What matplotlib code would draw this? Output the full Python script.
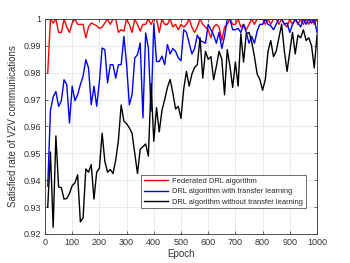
import numpy as np
import matplotlib
matplotlib.use("Agg")
import matplotlib.pyplot as plt
from matplotlib.ticker import FuncFormatter

plt.rcParams['font.family'] = ['Liberation Sans', 'DejaVu Sans']

epochs = list(range(10, 1001, 10))

federated = [
    0.980, 1.000, 0.9985, 1.000, 0.995, 0.995, 1.000, 0.997, 0.995, 0.9985,
    1.000, 0.998, 0.998, 0.998, 0.993, 0.997, 0.9985, 0.998, 0.9975, 0.9965,
    0.997, 0.9985, 1.000, 0.998, 1.000, 1.000, 0.995, 0.996, 0.9955, 1.000,
    0.998, 0.995, 1.000, 0.998, 0.9955, 0.998, 0.998, 1.000, 0.998, 1.000,
    1.000, 0.995, 1.000, 0.998, 0.998, 1.000, 0.997, 0.998, 0.996, 0.998,
    0.997, 0.998, 1.000, 0.997, 0.995, 0.997, 1.000, 0.998, 0.997, 0.996,
    0.993, 0.997, 0.998, 0.997, 0.992, 0.997, 0.998, 1.000, 0.998, 0.998,
    1.000, 0.997, 0.998, 0.996, 0.998, 1.000, 0.998, 1.000, 1.000, 1.000,
    0.998, 1.000, 0.998, 1.000, 1.000, 0.998, 1.000, 0.998, 0.997, 1.000,
    0.998, 1.000, 0.998, 1.000, 0.998, 1.000, 0.998, 1.000, 0.998, 1.000,
]

with_tl = [
    0.9378, 0.966, 0.971, 0.973, 0.9675, 0.9695, 0.9774, 0.9756, 0.9613, 0.975,
    0.9696, 0.9718, 0.9756, 0.9787, 0.9849, 0.9818, 0.9681, 0.975, 0.9675, 0.9768,
    0.9892, 0.9886, 0.9762, 0.983, 0.983, 0.978, 0.983, 0.983, 0.9935, 0.983,
    0.9681, 0.9718, 0.9855, 0.9867, 0.9911, 0.9632, 0.9948, 0.9892, 0.9657, 0.9983,
    0.9842, 0.9842, 0.9862, 0.983, 0.9905, 0.987, 0.989, 0.988, 0.9855, 0.9845,
    0.996, 0.995, 0.991, 0.987, 0.989, 0.994, 0.992, 0.9915, 0.991, 0.998,
    0.996, 0.994, 0.991, 0.995, 0.989, 0.9935, 1.000, 1.000, 0.996, 0.996,
    0.9965, 0.995, 0.998, 0.995, 0.991, 0.9935, 0.991, 0.9955, 0.998, 0.998,
    1.000, 0.998, 0.9975, 0.996, 0.998, 1.000, 1.000, 0.998, 0.9985, 0.995,
    0.998, 1.000, 0.9985, 0.997, 1.000, 0.998, 1.000, 0.9985, 1.000, 0.995,
]

without_tl = [
    0.930, 0.9505, 0.9225, 0.9565, 0.9375, 0.9372, 0.933, 0.9332, 0.935, 0.938,
    0.939, 0.942, 0.9245, 0.926, 0.9442, 0.943, 0.9458, 0.933, 0.943, 0.9445,
    0.9575, 0.947, 0.943, 0.944, 0.9425, 0.9475, 0.955, 0.968, 0.962, 0.961,
    0.9595, 0.9575, 0.950, 0.9425, 0.9515, 0.9525, 0.9535, 0.949, 0.976, 0.9545,
    0.967, 0.958, 0.966, 0.970, 0.9745, 0.9775, 0.9725, 0.9665, 0.9675, 0.963,
    0.974, 0.9805, 0.975, 0.9795, 0.982, 0.983, 0.993, 0.978, 0.988, 0.985,
    0.986, 0.9774, 0.9824, 0.988, 0.985, 0.9718, 0.9886, 0.9824, 0.9745, 0.984,
    0.975, 0.9945, 0.984, 0.9945, 0.995, 0.9915, 0.986, 0.9795, 0.9775, 0.9735,
    0.9775, 0.988, 0.992, 0.986, 0.988, 0.993, 0.998, 0.988, 0.9805, 0.988,
    0.995, 0.987, 0.994, 0.993, 0.996, 0.992, 0.993, 0.990, 0.9818, 0.994,
]

labels = ["Federated DRL algorithm",
          "DRL algorithm with transfer learning",
          "DRL algorithm without transfer learning"]

fig = plt.figure(figsize=(3.5, 2.63), dpi=100)
ax = fig.add_axes([0.1286, 0.1103, 0.7771, 0.8175])

ax.plot(epochs, federated, color=(1, 0, 0), lw=1.0, label=labels[0])
ax.plot(epochs, with_tl, color=(0, 0, 1), lw=1.0, label=labels[1])
ax.plot(epochs, without_tl, color="black", lw=1.0, label=labels[2])

ax.set_xlim(0, 1000)
ax.set_ylim(0.92, 1.0)
ax.set_xticks(np.arange(0, 1001, 100))
ax.set_yticks(np.arange(0.92, 1.0001, 0.01))
ax.yaxis.set_major_formatter(FuncFormatter(lambda v, p: ("%.2f" % v).rstrip("0").rstrip(".")))
ax.grid(True, color="#e6e6e6", lw=0.6)
ax.set_axisbelow(True)
ax.tick_params(direction="in", length=2.5, width=0.5, labelsize=6.5,
               colors="#333333", top=True, right=True, pad=3)
for s in ax.spines.values():
    s.set_color("#333333")
    s.set_linewidth(0.6)

ax.set_xlabel("Epoch", fontsize=7, color="#333333", labelpad=1)
ax.set_ylabel("Satisfied rate of V2V communications", fontsize=7, color="#333333", labelpad=4)

leg = ax.legend(loc="lower right", bbox_to_anchor=(0.958, 0.12), fontsize=5.4,
                frameon=True, fancybox=False, edgecolor="#333333", framealpha=1,
                handlelength=3.3, borderpad=0.35, labelspacing=0.4, handletextpad=0.5,
                borderaxespad=0)
leg.get_frame().set_linewidth(0.5)
for t in leg.get_texts():
    t.set_color("#262626")

fig.savefig("out.png", dpi=100)
